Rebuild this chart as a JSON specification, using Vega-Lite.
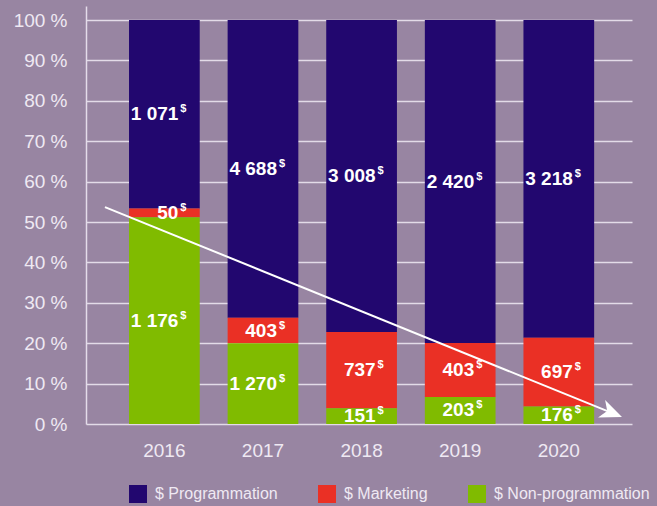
{
  "$schema": "https://vega.github.io/schema/vega-lite/v6.json",
  "width": 546,
  "height": 418,
  "autosize": {"type": "none"},
  "padding": {"left": 86, "top": 6, "right": 25, "bottom": 82},
  "background": "#9885a2",
  "config": {
    "view": {"stroke": null},
    "font": "Liberation Sans",
    "locale": {"number": {"decimal": ",", "thousands": " ", "grouping": [3], "currency": ["", "$"]}}
  },
  "datasets": {
    "costs": [
      {"year": 2016, "series": "$ Programmation", "rank": 3, "value": 1071},
      {"year": 2016, "series": "$ Marketing", "rank": 2, "value": 50},
      {"year": 2016, "series": "$ Non-programmation", "rank": 1, "value": 1176},
      {"year": 2017, "series": "$ Programmation", "rank": 3, "value": 4688},
      {"year": 2017, "series": "$ Marketing", "rank": 2, "value": 403},
      {"year": 2017, "series": "$ Non-programmation", "rank": 1, "value": 1270},
      {"year": 2018, "series": "$ Programmation", "rank": 3, "value": 3008},
      {"year": 2018, "series": "$ Marketing", "rank": 2, "value": 737},
      {"year": 2018, "series": "$ Non-programmation", "rank": 1, "value": 151},
      {"year": 2019, "series": "$ Programmation", "rank": 3, "value": 2420},
      {"year": 2019, "series": "$ Marketing", "rank": 2, "value": 403},
      {"year": 2019, "series": "$ Non-programmation", "rank": 1, "value": 203},
      {"year": 2020, "series": "$ Programmation", "rank": 3, "value": 3218},
      {"year": 2020, "series": "$ Marketing", "rank": 2, "value": 697},
      {"year": 2020, "series": "$ Non-programmation", "rank": 1, "value": 176}
    ],
    "trend": [
      {"year": 2015.396, "share": 0.537},
      {"year": 2020.539, "share": 0.0275}
    ],
    "trendEnd": [
      {"year": 2020.539, "share": 0.0275}
    ]
  },
  "layer": [
    {
      "layer": [
        {
          "data": {"name": "costs"},
          "mark": {"type": "bar"},
          "encoding": {
            "x": {
              "field": "year", "type": "ordinal",
              "scale": {"paddingInner": 0.283, "paddingOuter": 0.41, "align": 0.532},
              "axis": {"title": null, "domain": false, "ticks": false, "labelAngle": 0, "labelFontSize": 19, "labelColor": "#efe9f3", "labelPadding": 17}
            },
            "y": {
              "field": "value", "type": "quantitative", "stack": "normalize",
              "scale": {"domain": [0, 1.0347], "nice": false},
              "axis": {
                "title": null,
                "values": [0, 0.1, 0.2, 0.3, 0.4, 0.5, 0.6, 0.7, 0.8, 0.9, 1],
                "labelExpr": "round(datum.value * 100) + ' %'",
                "ticks": false,
                "domain": true, "domainColor": "#e4dcea", "domainWidth": 1.5,
                "grid": true, "gridColor": "#f0eaf4", "gridWidth": 1.5, "gridOpacity": 0.85,
                "labelFontSize": 19, "labelColor": "#efe9f3", "labelPadding": 19
              }
            },
            "color": {
              "field": "series", "type": "nominal",
              "scale": {
                "domain": ["$ Programmation", "$ Marketing", "$ Non-programmation"],
                "range": ["#22076f", "#ea3025", "#80bb00"]
              },
              "legend": {
                "title": null, "orient": "none", "legendX": 43, "legendY": 479,
                "direction": "horizontal", "symbolType": "square", "symbolSize": 324,
                "symbolStrokeWidth": 0, "symbolOpacity": 1,
                "labelFontSize": 16, "labelColor": "#efe9f3", "labelOffset": 8,
                "columnPadding": 40
              }
            },
            "order": {"field": "rank", "type": "quantitative"}
          }
        },
        {
          "data": {"name": "costs"},
          "mark": {"type": "text", "align": "right", "baseline": "middle", "dx": 14, "fontSize": 19, "fontWeight": "bold", "color": "#ffffff"},
          "encoding": {
            "x": {"field": "year", "type": "ordinal"},
            "y": {"field": "value", "type": "quantitative", "stack": "normalize", "bandPosition": 0.5},
            "text": {"field": "value", "type": "quantitative", "format": ",d"},
            "order": {"field": "rank", "type": "quantitative"}
          }
        },
        {
          "data": {"name": "costs"},
          "mark": {"type": "text", "align": "left", "baseline": "middle", "dx": 16, "dy": -5, "fontSize": 11, "fontWeight": "bold", "color": "#ffffff", "text": "$"},
          "encoding": {
            "x": {"field": "year", "type": "ordinal"},
            "y": {"field": "value", "type": "quantitative", "stack": "normalize", "bandPosition": 0.5},
            "order": {"field": "rank", "type": "quantitative"}
          }
        }
      ]
    },
    {
      "layer": [
        {
          "data": {"name": "trend"},
          "mark": {"type": "line", "color": "#ffffff", "strokeWidth": 2},
          "encoding": {
            "x": {"field": "year", "type": "quantitative", "scale": {"domain": [2015.2035, 2020.744], "nice": false, "zero": false}, "axis": null},
            "y": {"field": "share", "type": "quantitative"}
          }
        },
        {
          "data": {"name": "trendEnd"},
          "mark": {"type": "point", "shape": "M1,0L-1,-0.85L-0.45,0L-1,0.85Z", "angle": 22, "size": 484, "filled": true, "color": "#ffffff", "opacity": 1},
          "encoding": {
            "x": {"field": "year", "type": "quantitative"},
            "y": {"field": "share", "type": "quantitative"}
          }
        }
      ]
    }
  ],
  "resolve": {"scale": {"x": "independent"}}
}
